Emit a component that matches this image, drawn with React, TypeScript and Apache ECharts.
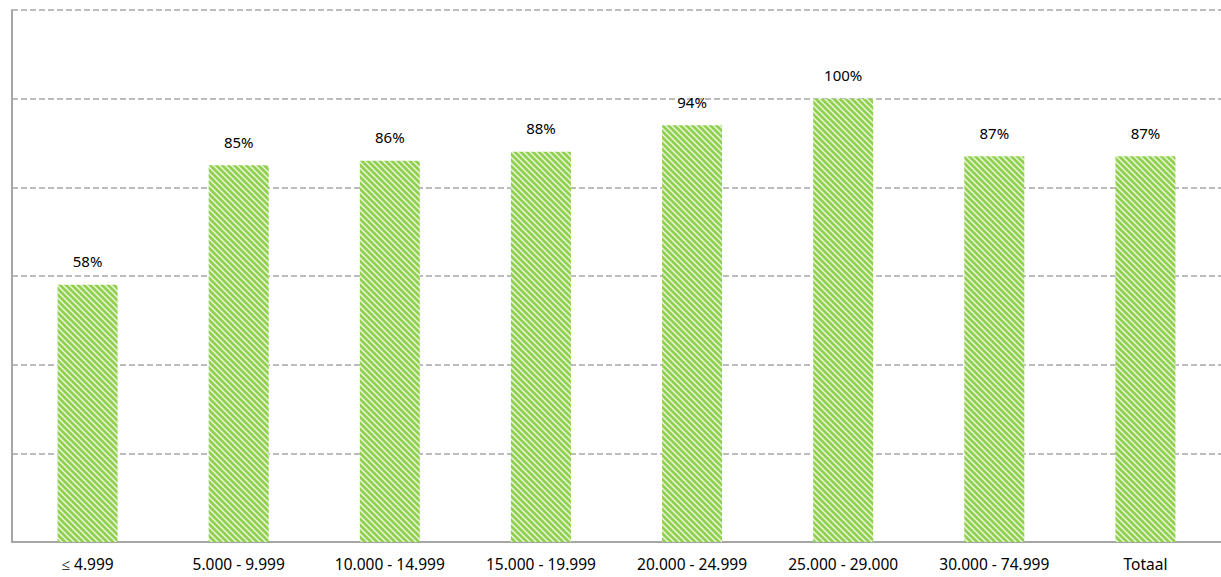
import React, { useEffect, useRef } from "react";
import * as echarts from "echarts";

const categories = ["≤ 4.999", "5.000 - 9.999", "10.000 - 14.999", "15.000 - 19.999", "20.000 - 24.999", "25.000 - 29.000", "30.000 - 74.999", "Totaal"];
const values = [58, 85, 86, 88, 94, 100, 87, 87];

function makePattern(): string {
  const s = 6;
  const c = document.createElement("canvas");
  c.width = s;
  c.height = s;
  const ctx = c.getContext("2d")!;
  ctx.fillStyle = "#92d050";
  ctx.fillRect(0, 0, s, s);
  ctx.strokeStyle = "rgba(255,255,255,0.85)";
  ctx.lineWidth = 1.3;
  for (let k = -1; k <= 1; k++) {
    ctx.beginPath();
    ctx.moveTo(k * s - 1, -1);
    ctx.lineTo(k * s + s + 1, s + 1);
    ctx.stroke();
  }
  return c.toDataURL();
}

export default function App() {
  const ref = useRef<HTMLDivElement>(null);
  useEffect(() => {
    const chart = echarts.init(ref.current!, null, { renderer: "svg" });
    const img = makePattern();
    chart.setOption({
      animation: false,
      grid: { left: 12, right: 0, top: 10, bottom: 35, containLabel: false },
      xAxis: {
        type: "category",
        data: categories,
        axisLine: { lineStyle: { color: "#a6a6a6", width: 2 } },
        axisTick: { show: false },
        axisLabel: { color: "#000", fontSize: 15.5, fontFamily: "Noto Sans", margin: 14 },
      },
      yAxis: {
        type: "value",
        min: 0,
        max: 120,
        interval: 20,
        axisLine: { show: true, lineStyle: { color: "#a6a6a6", width: 2 } },
        axisTick: { show: false },
        axisLabel: { show: false },
        splitLine: { lineStyle: { color: "#a6a6a6", type: [6, 3], width: 1.5 } },
      },
      series: [
        {
          type: "bar",
          data: values,
          barWidth: 60,
          itemStyle: { color: { image: img, repeat: "repeat" } },
          label: {
            show: true,
            position: "top",
            distance: 16,
            formatter: "{c}%",
            color: "#000",
            fontSize: 15,
            fontFamily: "Noto Sans",
          },
        },
      ],
    });
    return () => chart.dispose();
  }, []);
  return <div ref={ref} style={{ width: 1221, height: 577, position: "absolute", left: 0, top: 0 }} />;
}
